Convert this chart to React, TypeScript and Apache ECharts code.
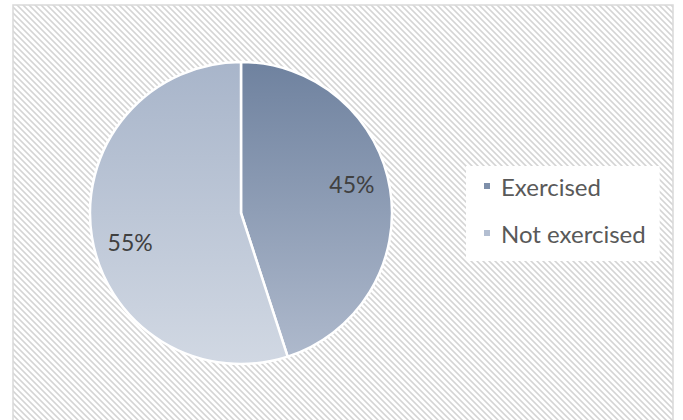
import React, { useEffect, useRef } from "react";
import * as echarts from "echarts";

const categories = ["Exercised", "Not exercised"];
const values = [45, 55];
const topColors = ["#6f829f", "#a8b5ca"];
const bottomColors = ["#aeb9cc", "#d1d8e3"];
const legendColors = ["#7e8faa", "#b3bed1"];

function makeStripePattern(): { url: string; size: number } {
  const size = 6;
  const c = document.createElement("canvas");
  c.width = size;
  c.height = size;
  const ctx = c.getContext("2d")!;
  const img = ctx.createImageData(size, size);
  for (let y = 0; y < size; y++) {
    for (let x = 0; x < size; x++) {
      const d = (((x - y) % size) + size) % size;
      let v = 255;
      if (d === 0) v = 212;
      else if (d === 1 || d === size - 1) v = 228;
      const i = (y * size + x) * 4;
      img.data[i] = v;
      img.data[i + 1] = v;
      img.data[i + 2] = v;
      img.data[i + 3] = 255;
    }
  }
  ctx.putImageData(img, 0, 0);
  return { url: c.toDataURL(), size };
}

export default function App() {
  const ref = useRef<HTMLDivElement>(null);
  useEffect(() => {
    if (!ref.current) return;
    const chart = echarts.init(ref.current, undefined, { renderer: "svg" });
    const pat = makeStripePattern();
    const R = 151;
    const total = values.reduce((a, b) => a + b, 0);
    let acc = 0;
    const data = categories.map((name, i) => {
      const mid = ((acc + values[i] / 2) / total) * 360 - 6;
      acc += values[i];
      const rad = (mid * Math.PI) / 180;
      const midRad = (((acc - values[i] / 2) / total) * 360 * Math.PI) / 180;
      const dx = 0.74 * R * Math.sin(rad) - 0.5 * R * Math.sin(midRad);
      const dy = -0.74 * R * Math.cos(rad) + 0.5 * R * Math.cos(midRad);
      return {
        name,
        value: values[i],
        itemStyle: {
          color: new echarts.graphic.LinearGradient(0, 0, 0, 1, [
            { offset: 0, color: topColors[i] },
            { offset: 1, color: bottomColors[i] },
          ]),
        },
        label: { offset: [dx, dy] },
      };
    });
    chart.setOption({
      animation: false,
      backgroundColor: "#ffffff",
      graphic: [
        {
          type: "rect",
          z: -10,
          silent: true,
          shape: { x: 13, y: 5, width: 660, height: 430 },
          style: {
            fill: {
              image: pat.url,
              repeat: "repeat",
              imageWidth: pat.size,
              imageHeight: pat.size,
            } as any,
            stroke: "#d9d9d9",
            lineWidth: 1.5,
          },
        },
      ],
      legend: {
        orient: "vertical",
        left: 466,
        top: 166,
        backgroundColor: "#ffffff",
        padding: [6, 14, 14, 16],
        itemWidth: 8,
        itemHeight: 8,
        itemGap: 19,
        icon: "rect",
        data: categories.map((name, i) => ({
          name,
          itemStyle: { color: legendColors[i] },
        })),
        textStyle: {
          fontFamily: "Lato",
          fontSize: 24,
          color: "#595959",
          lineHeight: 28,
          padding: [0, 0, 0, 5],
        },
      },
      series: [
        {
          type: "pie",
          center: [241, 213],
          radius: R,
          startAngle: 90,
          clockwise: true,
          data,
          itemStyle: { borderColor: "#ffffff", borderWidth: 2.5 },
          label: {
            show: true,
            position: "inside",
            formatter: "{d}%",
            fontFamily: "Lato",
            fontSize: 23,
            color: "#404040",
          },
          labelLine: { show: false },
          emphasis: { disabled: true },
        },
      ],
    });
    return () => chart.dispose();
  }, []);
  return <div ref={ref} style={{ width: 683, height: 420, position: "absolute", left: 0, top: 0 }} />;
}
